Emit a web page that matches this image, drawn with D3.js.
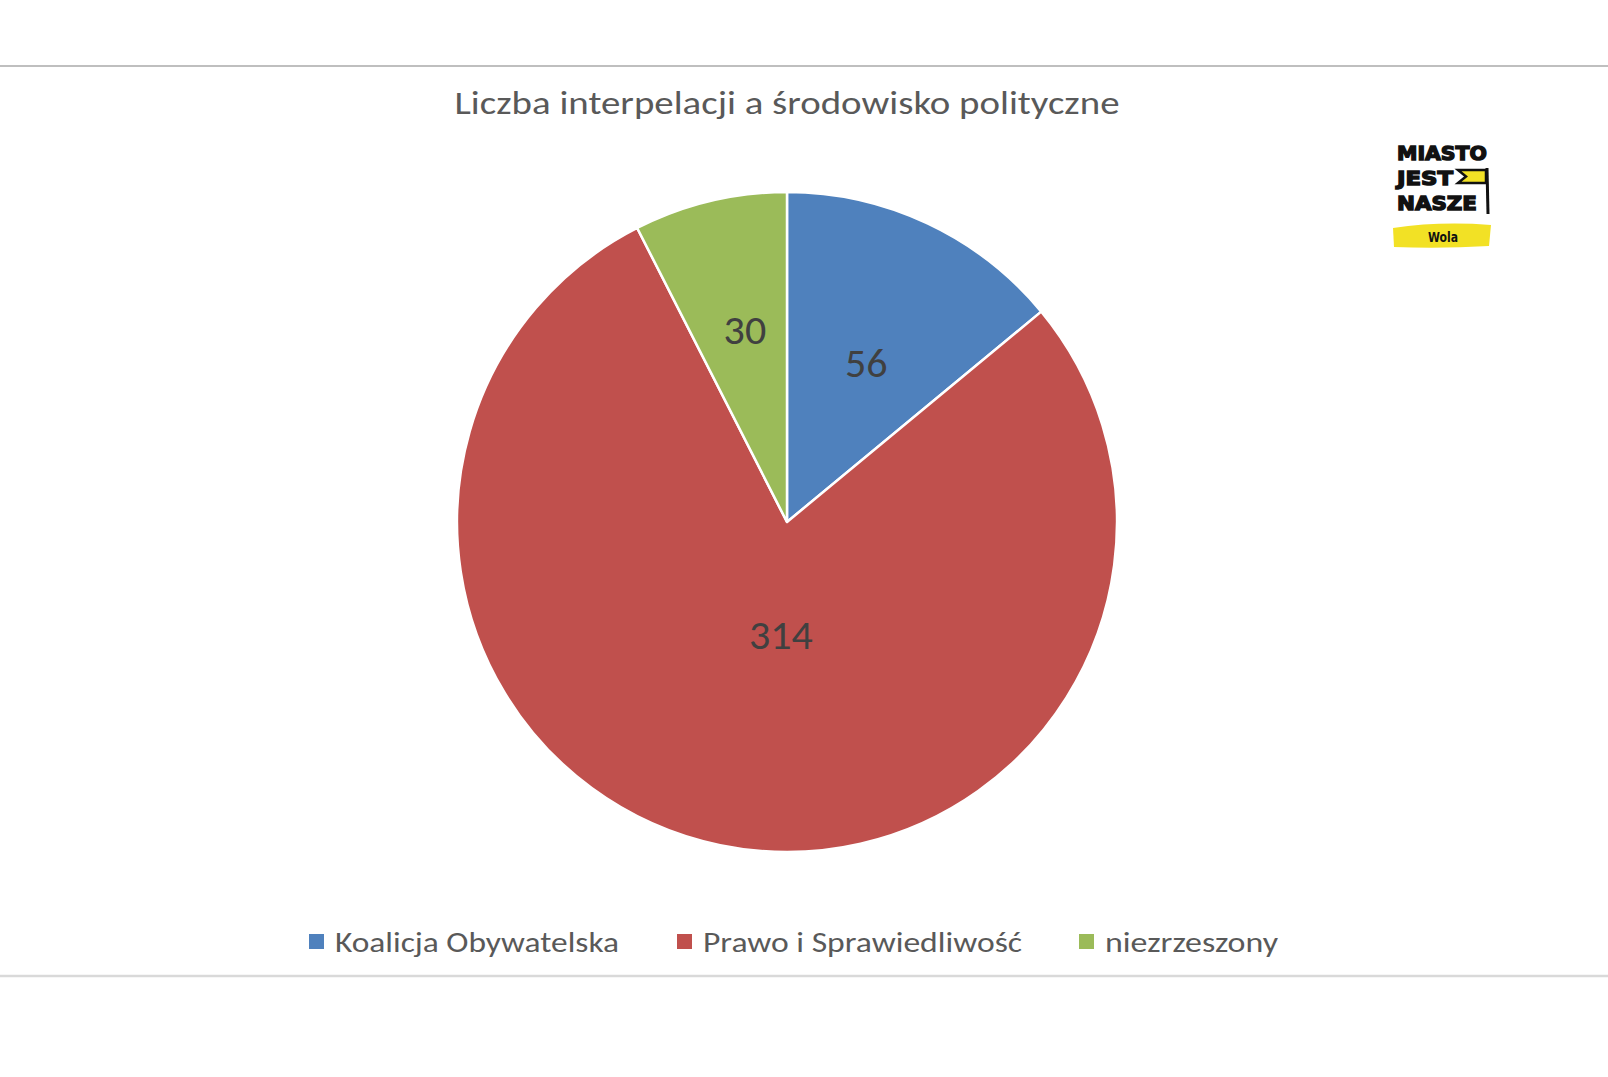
<!DOCTYPE html>
<html><head><meta charset="utf-8">
<script src="https://cdn.jsdelivr.net/npm/d3@7"></script>
<style>body{margin:0;background:#fff;}svg{display:block;}</style>
</head><body>
<svg id="c" width="1608" height="1077"></svg>
<script>
const title = "Liczba interpelacji a środowisko polityczne";
const categories = ["Koalicja Obywatelska", "Prawo i Sprawiedliwość", "niezrzeszony"];
const values = [56, 314, 30];
const colors = ["#4F81BD", "#C0504D", "#9BBB59"];

const W = 1608, H = 1077;
const svg = d3.select("#c");
const font = "Carlito, 'Open Sans', 'Noto Sans', sans-serif";

// frame lines
svg.append("line").attr("x1",0).attr("x2",W).attr("y1",66).attr("y2",66).attr("stroke","#bfbfbf").attr("stroke-width",2);
svg.append("line").attr("x1",0).attr("x2",W).attr("y1",976).attr("y2",976).attr("stroke","#d9d9d9").attr("stroke-width",2.5);

// title
const t = svg.append("text").attr("x",787).attr("y",114).attr("text-anchor","middle")
  .attr("font-family",font).attr("font-size",32).attr("fill","#595959").text(title);
t.attr("textLength",665).attr("lengthAdjust","spacingAndGlyphs");

// pie
const cx = 787, cy = 522, R = 330;
const pie = d3.pie().sort(null).value(d => d)(values);
const arc = d3.arc().innerRadius(0).outerRadius(R);
const g = svg.append("g").attr("transform",`translate(${cx},${cy})`);
g.selectAll("path").data(pie).join("path")
  .attr("d",arc).attr("fill",(d,i)=>colors[i]).attr("stroke","#fff").attr("stroke-width",2.5).attr("stroke-linejoin","round");

g.selectAll("text.lbl").data(pie).join("text").attr("class","lbl")
  .attr("transform", d => {
    const frac = (d.endAngle-d.startAngle)/(2*Math.PI);
    const r = frac > 0.5 ? R*0.34 : R*(0.66 - 0.85*frac);
    const a = (d.startAngle+d.endAngle)/2;
    const adj = frac > 0.5 ? a - 0.15 : a + 0.02;
    return `translate(${r*Math.sin(adj)},${-r*Math.cos(adj)})`;
  })
  .attr("text-anchor","middle").attr("dy","0.35em")
  .attr("font-family",font).attr("font-size",42).attr("fill","#404040")
  .text(d => d.data);

// legend
const legX = [309, 677, 1079];
const legW = [284, 319, 173];
const lg = svg.append("g");
categories.forEach((c,i)=>{
  lg.append("rect").attr("x",legX[i]).attr("y",934).attr("width",15).attr("height",15).attr("fill",colors[i]);
  lg.append("text").attr("x",legX[i]+26).attr("y",952).attr("font-family",font).attr("font-size",29)
    .attr("fill","#595959").attr("textLength",legW[i]).attr("lengthAdjust","spacingAndGlyphs").text(c);
});

// logo
const L = svg.append("g");
L.append("path").attr("d","M1393,228 Q1440,221 1491,225 L1489,246 Q1440,249 1394,247 Z").attr("fill","#F2E125");
const lf = "'DejaVu Sans', sans-serif";
[["MIASTO",1397,160,90],["JEST",1397,185,56],["NASZE",1397,210,80]].forEach(([s,x,y,w])=>{
  L.append("text").attr("x",x).attr("y",y).attr("font-family",lf).attr("font-weight","bold")
   .attr("font-size",20).attr("fill","#111").attr("stroke","#111").attr("stroke-width",1.4)
   .attr("textLength",w).attr("lengthAdjust","spacingAndGlyphs").text(s);
});
L.append("path").attr("d","M1458,170 L1486,170 L1486,183 L1458,183 L1466,176.5 Z").attr("fill","#F2E125").attr("stroke","#111").attr("stroke-width",2.5);
L.append("line").attr("x1",1487).attr("x2",1488).attr("y1",168).attr("y2",214).attr("stroke","#111").attr("stroke-width",3);
L.append("text").attr("x",1443).attr("y",242).attr("text-anchor","middle").attr("font-family",lf).attr("font-weight","bold")
  .attr("font-size",14).attr("fill","#111").attr("textLength",30).attr("lengthAdjust","spacingAndGlyphs").text("Wola");
</script>
</body></html>
